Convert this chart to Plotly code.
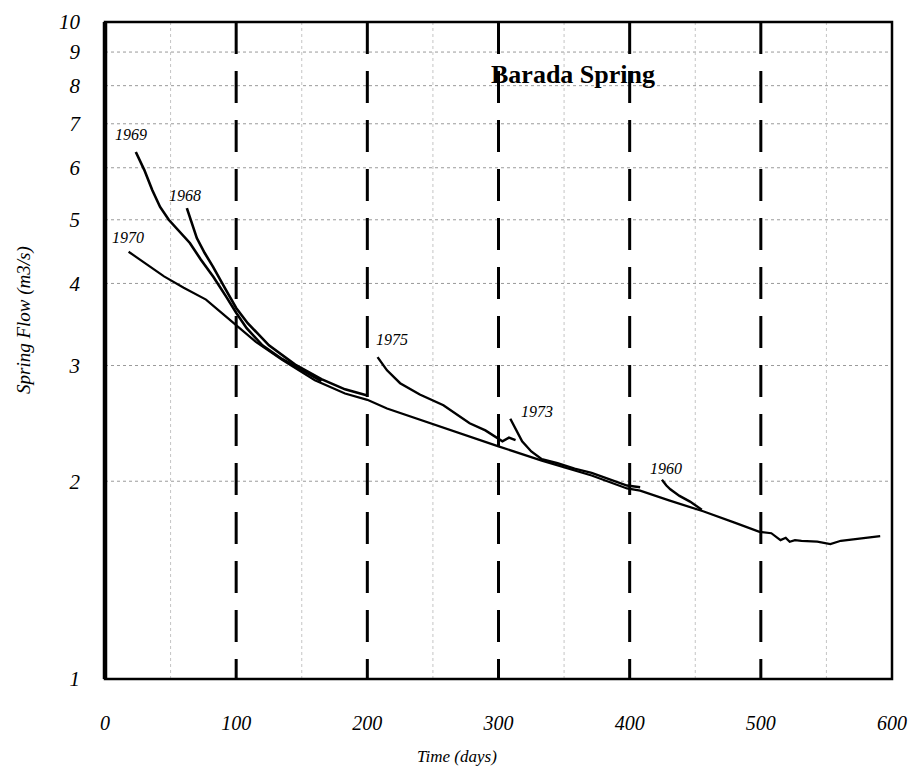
import math
import plotly.graph_objects as go

# ---------------- data ----------------
x_ticks = [0, 100, 200, 300, 400, 500, 600]
y_ticks = [1, 2, 3, 4, 5, 6, 7, 8, 9, 10]
dashed_days = [100, 200, 300, 400, 500]
minor_days = [50, 150, 250, 350, 450, 550]
grid_flows = [2, 3, 4, 5, 6, 7, 8, 9]

t1970 = [18, 30, 45, 60, 77, 88, 100, 115, 135, 160, 183, 200, 215, 240, 258, 280, 300,
         333, 371, 398, 408, 430, 456, 480, 499, 508, 515, 519, 522, 526, 531, 543, 553,
         561, 570, 579, 591]
q1970 = [4.47, 4.30, 4.10, 3.94, 3.78, 3.62, 3.46, 3.26, 3.06, 2.85, 2.72, 2.66, 2.58, 2.48,
         2.41, 2.33, 2.26, 2.15, 2.04, 1.95, 1.935, 1.87, 1.80, 1.73, 1.675, 1.667, 1.627,
         1.64, 1.618, 1.627, 1.623, 1.618, 1.605, 1.623, 1.632, 1.642, 1.65]

t1969 = [23.5, 30, 36, 42, 48.6, 56, 64.7, 73, 82.7, 92, 100, 108, 120, 135, 150, 165]
q1969 = [6.34, 5.95, 5.55, 5.23, 5.00, 4.82, 4.61, 4.35, 4.09, 3.83, 3.61, 3.42, 3.22,
         3.07, 2.95, 2.84]

t1968 = [62.4, 66, 70, 76, 82.4, 91, 100, 108.8, 125, 145, 165, 183, 200]
q1968 = [5.21, 4.95, 4.69, 4.45, 4.24, 3.95, 3.67, 3.48, 3.22, 3.01, 2.86, 2.76, 2.70]

t1975 = [207.8, 215, 225, 240, 258, 278, 290, 298, 303, 308, 313]
q1975 = [3.09, 2.95, 2.82, 2.71, 2.61, 2.45, 2.39, 2.33, 2.30, 2.33, 2.31]

t1973 = [309, 313, 318, 325, 333, 345, 358, 371, 385, 398, 408]
q1973 = [2.49, 2.40, 2.30, 2.22, 2.16, 2.13, 2.09, 2.06, 2.01, 1.97, 1.958]

t1960 = [424.6, 428, 431, 438, 446, 455]
q1960 = [2.01, 1.97, 1.944, 1.90, 1.862, 1.81]

series = [
    ("1970", t1970, q1970, 2.2, -1, 4),
    ("1969", t1969, q1969, 2.6, -5, 7),
    ("1968", t1968, q1968, 2.6, -2, 2),
    ("1975", t1975, q1975, 2.4, 14, 7),
    ("1973", t1973, q1973, 2.4, 27, -3),
    ("1960", t1960, q1960, 2.4, 4, 1),
]

SERIF = "Liberation Serif, Times New Roman, serif"
W, H = 908, 775
L, R, T, B = 105, 16, 22, 96
PW, PH = W - L - R, H - T - B
PLOT_LEFT, PLOT_BOTTOM = L, H - B


def px(xw):
    return (xw - PLOT_LEFT) / PW


def py(yw):
    return (PLOT_BOTTOM - yw) / PH


fig = go.Figure()

for name, t, q, w, dx, dy in series:
    fig.add_trace(go.Scatter(x=t, y=q, mode="lines", name=name,
                             line=dict(color="black", width=w),
                             showlegend=False, hoverinfo="x+y+name"))
    # on a log axis, annotation y is given in log10 units
    fig.add_annotation(x=t[0], y=math.log10(q[0]), xref="x", yref="y",
                       text=name, showarrow=False, xanchor="center", yanchor="bottom",
                       xshift=dx, yshift=dy,
                       font=dict(family=SERIF, size=16, color="black", style="italic"))

shapes = []
# faint dotted grid
for g in grid_flows:
    shapes.append(dict(type="line", xref="paper", x0=0, x1=1, yref="y", y0=g, y1=g,
                       line=dict(color="#9a9a9a", width=1, dash="dot"), layer="below"))
for d in minor_days:
    shapes.append(dict(type="line", xref="x", x0=d, x1=d, yref="paper", y0=0, y1=1,
                       line=dict(color="#c4c4c4", width=1, dash="dot"), layer="below"))
# heavy dashed verticals
for d in dashed_days:
    shapes.append(dict(type="line", xref="x", x0=d, x1=d, yref="paper", y0=1, y1=0,
                       line=dict(color="black", width=3, dash="32px,17px")))
# frame
shapes.append(dict(type="rect", xref="paper", yref="paper", x0=0, x1=1, y0=0, y1=1,
                   line=dict(color="black", width=2.5)))
shapes.append(dict(type="line", xref="paper", yref="paper", x0=0, x1=0, y0=0, y1=1,
                   line=dict(color="black", width=4.5)))

fig.update_layout(
    width=W, height=H,
    margin=dict(l=L, r=R, t=T, b=B),
    paper_bgcolor="white", plot_bgcolor="white",
    shapes=shapes,
    xaxis=dict(range=[0, 600], tickvals=x_ticks, ticktext=[str(v) for v in x_ticks],
               showgrid=False, zeroline=False, showline=False, ticks="",
               ticklabelstandoff=30, automargin=False,
               tickfont=dict(family=SERIF, size=20, color="black", style="italic")),
    yaxis=dict(type="log", range=[0, 1], tickvals=y_ticks, ticktext=[str(v) for v in y_ticks],
               showgrid=False, zeroline=False, showline=False, ticks="",
               ticklabelstandoff=24, automargin=False,
               tickfont=dict(family=SERIF, size=21, color="black", style="italic")),
)

fig.add_annotation(xref="paper", yref="paper", x=px(573), y=py(74),
                   text="<b>Barada Spring</b>", showarrow=False, xanchor="center", yanchor="middle",
                   font=dict(family=SERIF, size=26, color="black"))
fig.add_annotation(xref="paper", yref="paper", x=px(457), y=py(757),
                   text="Time (days)", showarrow=False, xanchor="center", yanchor="middle",
                   font=dict(family=SERIF, size=17, color="black", style="italic"))
fig.add_annotation(xref="paper", yref="paper", x=px(24), y=py(320),
                   text="Spring Flow (m3/s)", showarrow=False, textangle=-90,
                   xanchor="center", yanchor="middle",
                   font=dict(family=SERIF, size=19, color="black", style="italic"))

# remove the browser's default 8px body margin so the figure fills the window exactly
fig.write_html("out.html",
               config={"displayModeBar": False},
               post_script="document.body.style.margin='0';document.body.style.overflow='hidden';")
